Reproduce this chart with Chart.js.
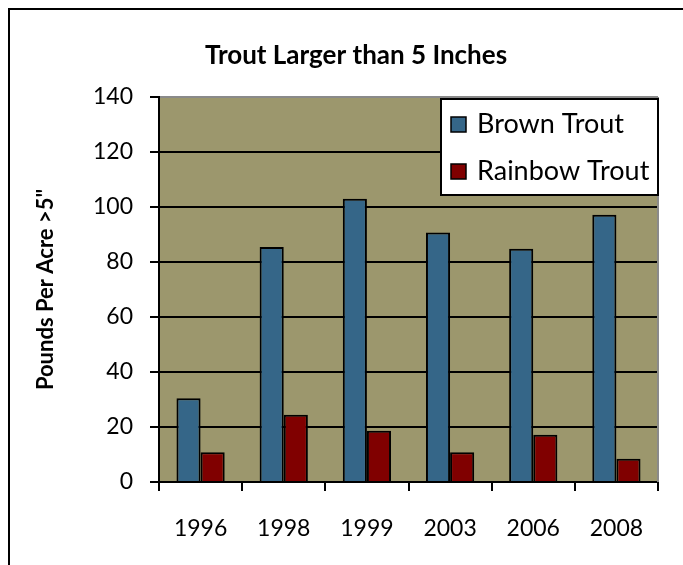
<!DOCTYPE html>
<html>
<head>
<meta charset="utf-8">
<script src="https://cdn.jsdelivr.net/npm/chart.js@4/dist/chart.umd.min.js"></script>
<style>
  html, body { margin: 0; padding: 0; background: #fff; }
  #wrap { width: 683px; height: 565px; position: relative; }
</style>
</head>
<body>
<div id="wrap"><canvas id="troutChart" width="683" height="565"></canvas></div>
<script>
const chartTitle = 'Trout Larger than 5 Inches';
const yAxisTitle = 'Pounds Per Acre >5"';
const years = ['1996', '1998', '1999', '2003', '2006', '2008'];
const brownTrout = [30.5, 85.5, 103, 90.7, 84.8, 97.2];
const rainbowTrout = [10.8, 24.5, 18.6, 10.8, 17.2, 8.5];
const yTicks = [0, 20, 40, 60, 80, 100, 120, 140];

const FONT = 'Lato, "Open Sans", sans-serif';

// Outer frame, plot background and title
const backdrop = {
    id: 'backdrop',
    beforeDraw(chart) {
        const ctx = chart.ctx;
        const a = chart.chartArea;
        ctx.save();
        ctx.strokeStyle = '#000';
        ctx.lineWidth = 2;
        ctx.strokeRect(9, 9, 900, 900);
        ctx.fillStyle = '#9c976d';
        ctx.fillRect(a.left, a.top, a.right - a.left, a.bottom - a.top);
        ctx.fillStyle = '#000';
        ctx.font = 'bold 26px ' + FONT;
        ctx.textAlign = 'center';
        ctx.textBaseline = 'middle';
        ctx.fillText(chartTitle, 356, 56);
        ctx.restore();
    },
    afterDatasetsDraw(chart) {
        const ctx = chart.ctx;
        const a = chart.chartArea;
        ctx.save();
        ctx.strokeStyle = '#8a8a8a';
        ctx.lineWidth = 2;
        ctx.beginPath();
        ctx.moveTo(a.right, a.top);
        ctx.lineTo(a.right, a.bottom);
        ctx.stroke();
        ctx.restore();
    }
};

// Legend box inside the plot, top right
const boxLegend = {
    id: 'boxLegend',
    afterDraw(chart) {
        const ctx = chart.ctx;
        const a = chart.chartArea;
        const x = 441, y = a.top + 2, w = a.right - 441, h = 96;
        ctx.save();
        ctx.fillStyle = '#fff';
        ctx.fillRect(x, y, w, h);
        ctx.strokeStyle = '#000';
        ctx.lineWidth = 2;
        ctx.strokeRect(x, y, w, h);
        ctx.font = '27px ' + FONT;
        ctx.textBaseline = 'middle';
        chart.data.datasets.forEach((ds, i) => {
            const cy = y + 25 + i * 47;
            ctx.fillStyle = ds.backgroundColor;
            ctx.fillRect(451, cy - 7, 15, 15);
            ctx.lineWidth = 1.5;
            ctx.strokeRect(451, cy - 7, 15, 15);
            ctx.fillStyle = '#000';
            ctx.fillText(ds.label, 477, cy);
        });
        ctx.restore();
    }
};

new Chart(document.getElementById('troutChart'), {
    type: 'bar',
    data: {
        labels: years,
        datasets: [
            {
                label: 'Brown Trout',
                data: brownTrout,
                backgroundColor: '#356688',
                borderColor: '#000',
                borderWidth: 2,
                categoryPercentage: 0.58,
                barPercentage: 1.0
            },
            {
                label: 'Rainbow Trout',
                data: rainbowTrout,
                backgroundColor: '#800000',
                borderColor: '#000',
                borderWidth: 2,
                categoryPercentage: 0.58,
                barPercentage: 1.0
            }
        ]
    },
    options: {
        responsive: false,
        animation: false,
        layout: {
            padding: { left: 30, right: 25, top: 97, bottom: 0 }
        },
        plugins: {
            legend: { display: false },
            title: { display: false },
            tooltip: { enabled: false }
        },
        scales: {
            x: {
                offset: true,
                grid: {
                    offset: true,
                    drawOnChartArea: false,
                    tickLength: 9,
                    color: '#000',
                    lineWidth: 2
                },
                border: { color: '#000', width: 2 },
                ticks: {
                    color: '#000',
                    font: { family: FONT, size: 23 },
                    padding: 24,
                    maxRotation: 0
                },
                afterFit(scale) { scale.height = 83; }
            },
            y: {
                min: 0,
                max: 140,
                afterBuildTicks(scale) {
                    scale.ticks = yTicks.map(v => ({ value: v }));
                },
                grid: {
                    color: ctx => ctx.tick && ctx.tick.value === 140 ? '#8a8a8a' : '#000',
                    tickColor: '#000',
                    lineWidth: 2,
                    tickLength: 9
                },
                border: { color: '#000', width: 2 },
                ticks: {
                    color: '#000',
                    font: { family: FONT, size: 23 },
                    padding: 17
                },
                title: {
                    display: true,
                    text: yAxisTitle,
                    color: '#000',
                    font: { family: FONT, size: 22, weight: 'bold' },
                    padding: { top: 3, bottom: 0 }
                },
                afterFit(scale) { scale.width = 129; }
            }
        }
    },
    plugins: [backdrop, boxLegend]
});
</script>
</body>
</html>
